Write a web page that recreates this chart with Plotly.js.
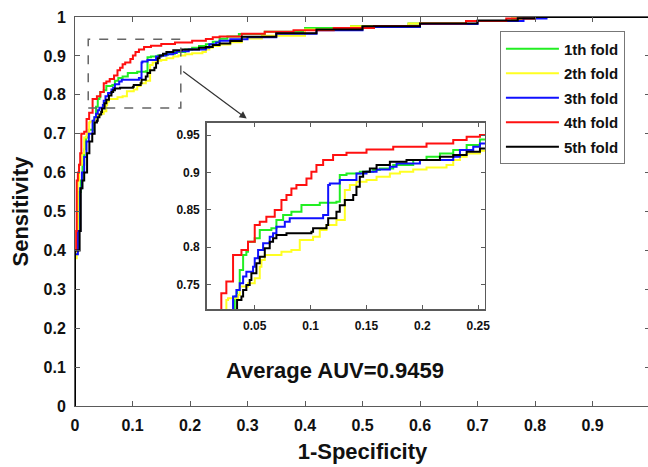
<!DOCTYPE html>
<html>
<head>
<meta charset="utf-8">
<script src="https://cdn.plot.ly/plotly-3.0.1.min.js"></script>
<style>
html,body{margin:0;padding:0;overflow:hidden;background:#fff;}
#chart{width:652px;height:467px;}
</style>
</head>
<body>
<div id="chart"></div>
<script>
// Fold names
var foldNames = ["1th fold", "2th fold", "3th fold", "4th fold", "5th fold"];
var foldColors = ["#22ee22", "#ffff22", "#1010ff", "#ff1010", "#000000"];

// ROC step points (1-specificity, sensitivity) for each fold
var fpr1 = [0, 0, 0.004, 0.007, 0.010, 0.013, 0.016, 0.019, 0.024, 0.0321, 0.0342, 0.0366, 0.0396, 0.0425, 0.044, 0.050, 0.0545, 0.0649, 0.0694, 0.0754, 0.0828, 0.0918, 0.1082, 0.1231, 0.1261, 0.1321, 0.144, 0.156, 0.1619, 0.1739, 0.1918, 0.2037, 0.2157, 0.2276, 0.2396, 0.2515, 0.265, 0.285, 0.33, 0.40, 0.48, 0.58, 0.68, 0.76, 0.80, 1];
var tpr1 = [0, 0.39, 0.45, 0.55, 0.58, 0.62, 0.66, 0.69, 0.71, 0.7335, 0.7424, 0.7692, 0.7893, 0.7938, 0.8071, 0.8116, 0.8228, 0.825, 0.8362, 0.8429, 0.8473, 0.8562, 0.8594, 0.8607, 0.8964, 0.8987, 0.9009, 0.9031, 0.9054, 0.9098, 0.9165, 0.921, 0.9254, 0.9299, 0.9366, 0.9442, 0.950, 0.956, 0.962, 0.972, 0.977, 0.983, 0.990, 0.996, 1, 1];

var fpr2 = [0, 0, 0.003, 0.005, 0.007, 0.012, 0.016, 0.020, 0.0246, 0.0261, 0.0351, 0.0366, 0.044, 0.050, 0.0545, 0.056, 0.059, 0.0739, 0.0828, 0.0903, 0.1022, 0.1082, 0.1142, 0.1231, 0.1306, 0.1351, 0.141, 0.150, 0.159, 0.1709, 0.1799, 0.1918, 0.2037, 0.2216, 0.2276, 0.2336, 0.2396, 0.2515, 0.27, 0.29, 0.325, 0.40, 0.48, 0.58, 0.68, 0.76, 0.80, 1];
var tpr2 = [0, 0.38, 0.45, 0.58, 0.62, 0.65, 0.69, 0.70, 0.729, 0.7313, 0.7357, 0.7469, 0.7513, 0.758, 0.7737, 0.7826, 0.7893, 0.7938, 0.796, 0.8094, 0.8138, 0.8228, 0.8295, 0.8362, 0.8763, 0.883, 0.8875, 0.8897, 0.8942, 0.8987, 0.9009, 0.904, 0.9067, 0.9098, 0.9165, 0.921, 0.9254, 0.929, 0.935, 0.945, 0.952, 0.968, 0.976, 0.983, 0.990, 0.996, 1, 1];

var fpr3 = [0, 0, 0.005, 0.009, 0.012, 0.016, 0.020, 0.024, 0.0306, 0.0336, 0.0366, 0.0396, 0.0425, 0.0485, 0.050, 0.053, 0.0575, 0.0634, 0.0664, 0.0694, 0.0769, 0.0813, 0.1112, 0.1157, 0.1172, 0.1261, 0.141, 0.150, 0.159, 0.1709, 0.1769, 0.1978, 0.2276, 0.2336, 0.2455, 0.2515, 0.27, 0.30, 0.35, 0.42, 0.50, 0.60, 0.70, 0.78, 0.82, 1];
var tpr3 = [0, 0.39, 0.45, 0.56, 0.60, 0.64, 0.68, 0.70, 0.7335, 0.7424, 0.7513, 0.7603, 0.767, 0.7737, 0.7848, 0.796, 0.8049, 0.8138, 0.8183, 0.8272, 0.8339, 0.8384, 0.8429, 0.883, 0.8853, 0.8897, 0.8987, 0.9009, 0.904, 0.9076, 0.9121, 0.9165, 0.921, 0.9299, 0.9344, 0.9388, 0.943, 0.948, 0.957, 0.966, 0.974, 0.982, 0.990, 0.996, 1, 1];

var fpr4 = [0, 0, 0.002, 0.003, 0.005, 0.007, 0.009, 0.011, 0.016, 0.0201, 0.0246, 0.0306, 0.0381, 0.044, 0.050, 0.0545, 0.0604, 0.0679, 0.0739, 0.0784, 0.0828, 0.0873, 0.0963, 0.1007, 0.1052, 0.1112, 0.1201, 0.1321, 0.150, 0.1739, 0.2037, 0.2276, 0.2396, 0.2515, 0.29, 0.33, 0.38, 0.45, 0.52, 0.60, 0.68, 0.75, 0.80, 1];
var tpr4 = [0, 0.40, 0.45, 0.58, 0.60, 0.62, 0.65, 0.70, 0.705, 0.7379, 0.7536, 0.7893, 0.796, 0.8071, 0.8295, 0.8339, 0.8406, 0.8496, 0.863, 0.8696, 0.8786, 0.883, 0.892, 0.9009, 0.9098, 0.9165, 0.9232, 0.9263, 0.9308, 0.9344, 0.9388, 0.9433, 0.9478, 0.950, 0.957, 0.962, 0.966, 0.972, 0.977, 0.983, 0.990, 0.996, 1, 1];

var fpr5 = [0, 0, 0.008, 0.010, 0.013, 0.016, 0.021, 0.025, 0.030, 0.0342, 0.0381, 0.0396, 0.0425, 0.0455, 0.047, 0.0515, 0.0545, 0.059, 0.0634, 0.0664, 0.0694, 0.0784, 0.1007, 0.1022, 0.1142, 0.1157, 0.1231, 0.1261, 0.1306, 0.1381, 0.141, 0.144, 0.147, 0.153, 0.159, 0.1709, 0.1858, 0.2157, 0.2276, 0.2396, 0.2515, 0.27, 0.29, 0.35, 0.42, 0.50, 0.60, 0.70, 0.77, 0.80, 1];
var tpr5 = [0, 0.40, 0.45, 0.56, 0.58, 0.60, 0.65, 0.68, 0.70, 0.729, 0.7335, 0.7424, 0.7491, 0.7558, 0.7647, 0.7781, 0.7871, 0.7982, 0.8071, 0.8116, 0.8161, 0.8183, 0.8205, 0.825, 0.8295, 0.8384, 0.8473, 0.856, 0.863, 0.8696, 0.8808, 0.8942, 0.9009, 0.9054, 0.9098, 0.9143, 0.9165, 0.921, 0.9232, 0.9277, 0.9321, 0.938, 0.949, 0.958, 0.968, 0.976, 0.983, 0.991, 0.997, 1, 1];

var fprs = [fpr1, fpr2, fpr3, fpr4, fpr5];
var tprs = [tpr1, tpr2, tpr3, tpr4, tpr5];

// Axis ticks
var mainTicks = [0, 0.1, 0.2, 0.3, 0.4, 0.5, 0.6, 0.7, 0.8, 0.9, 1];
var insetXTicks = [0.05, 0.1, 0.15, 0.2, 0.25];
var insetYTicks = [0.75, 0.8, 0.85, 0.9, 0.95];
var insetXRange = [0.007, 0.256];
var insetYRange = [0.7165, 0.9665];
var avgText = "Average AUV=0.9459";

var traces = [];
for (var i = 0; i < 5; i++) {
  traces.push({
    x: fprs[i], y: tprs[i], type: 'scatter', mode: 'lines',
    name: foldNames[i], legendgroup: 'g' + i,
    line: {color: foldColors[i], width: 2, shape: 'hv'},
    xaxis: 'x', yaxis: 'y', showlegend: true
  });
}
for (var j = 0; j < 5; j++) {
  traces.push({
    x: fprs[j], y: tprs[j], type: 'scatter', mode: 'lines',
    name: foldNames[j], legendgroup: 'g' + j,
    line: {color: foldColors[j], width: 2, shape: 'hv'},
    xaxis: 'x2', yaxis: 'y2', showlegend: false
  });
}

var axLine = '#5a5a5a';
var F = 'Arial, "Liberation Sans", sans-serif';
var layout = {
  width: 652, height: 467,
  margin: {l: 75, r: 2, t: 17, b: 61},
  paper_bgcolor: '#fff', plot_bgcolor: '#fff',
  showlegend: true,
  xaxis: {
    range: [0, 1], tickvals: mainTicks, ticks: 'inside', ticklen: 5, tickcolor: axLine,
    showline: true, linecolor: axLine, linewidth: 1, mirror: 'ticks', showgrid: false, zeroline: false,
    tickfont: {family: F, size: 16, color: '#111', weight: 'bold'}, ticklabelstandoff: 5,
    title: {text: '1-Specificity', font: {family: F, size: 22, color: '#111', weight: 'bold'}, standoff: 10},
    domain: [0, 1]
  },
  yaxis: {
    range: [0, 1], tickvals: mainTicks, ticks: 'inside', ticklen: 5, tickcolor: axLine,
    showline: true, linecolor: axLine, linewidth: 1, mirror: 'ticks', showgrid: false, zeroline: false,
    tickfont: {family: F, size: 16, color: '#111', weight: 'bold'}, ticklabelstandoff: 5,
    title: {text: 'Sensitivity', font: {family: F, size: 22, color: '#111', weight: 'bold'}, standoff: 8},
    domain: [0, 1]
  },
  xaxis2: {
    range: insetXRange, tickvals: insetXTicks, ticks: 'inside', ticklen: 4, tickcolor: axLine,
    showline: true, linecolor: axLine, linewidth: 1.5, mirror: 'ticks', showgrid: false, zeroline: false,
    tickfont: {family: F, size: 12, color: '#111', weight: 'bold'}, ticklabelstandoff: 5,
    domain: [0.229, 0.713], anchor: 'y2'
  },
  yaxis2: {
    range: insetYRange, tickvals: insetYTicks, ticks: 'inside', ticklen: 4, tickcolor: axLine,
    showline: true, linecolor: axLine, linewidth: 1.5, mirror: 'ticks', showgrid: false, zeroline: false,
    tickfont: {family: F, size: 12, color: '#111', weight: 'bold'}, ticklabelstandoff: 3,
    domain: [0.2486, 0.728], anchor: 'x2'
  },
  legend: {
    x: 0.739, y: 0.963, xanchor: 'left', yanchor: 'top',
    bgcolor: '#fff', bordercolor: '#777', borderwidth: 1,
    font: {family: F, size: 15, color: '#111', weight: 'bold'},
    itemwidth: 53, tracegroupgap: 2, entrywidth: 128
  },
  shapes: [
    {type: 'rect', xref: 'x', yref: 'y', x0: 0.023, x1: 0.184, y0: 0.766, y1: 0.943,
     line: {color: '#666', width: 1.5, dash: 'dash'}, fillcolor: 'rgba(0,0,0,0)', layer: 'above'}
  ],
  annotations: [
    {xref: 'x', yref: 'y', x: 0.2986, y: 0.739, axref: 'x', ayref: 'y', ax: 0.1856, ay: 0.863,
     showarrow: true, arrowhead: 2, arrowsize: 1.2, arrowwidth: 1.2, arrowcolor: '#333', text: ''},
    {xref: 'x', yref: 'y', x: 0.452, y: 0.091, text: avgText, showarrow: false,
     font: {family: F, size: 22, color: '#111', weight: 'bold'}}
  ]
};

Plotly.newPlot('chart', traces, layout, {displayModeBar: false, staticPlot: true});
</script>
</body>
</html>
